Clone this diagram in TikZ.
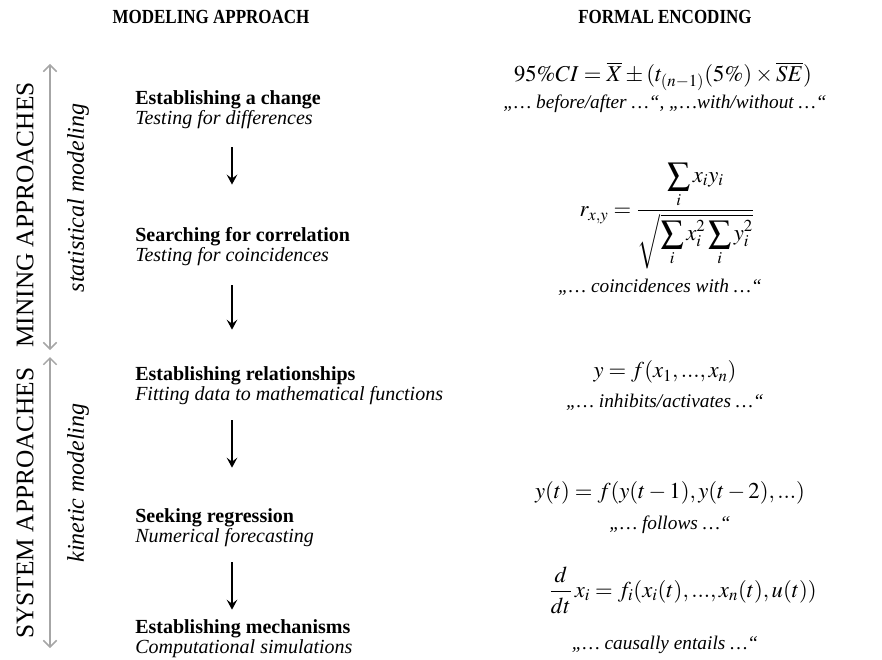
\documentclass[tikz,border=0pt]{standalone}
\usepackage{amsmath}
\usepackage[no-math]{fontspec}
\usepackage{mathptmx}
\setmainfont{Liberation Serif}
\newfontfamily\headfont[FakeStretch=0.85]{Liberation Serif}
\usetikzlibrary{arrows.meta, positioning, calc}

\begin{document}
\begin{tikzpicture}[
    x=0.75pt, y=-0.75pt,
    head/.style={inner sep=0pt, font=\headfont\bfseries\fontsize{15}{18}\selectfont},
    stepbox/.style={anchor=west, inner sep=0pt, align=left, font=\fontsize{15}{15}\selectfont},
    formula/.style={inner sep=0pt, font=\fontsize{17}{20}\selectfont},
    phrase/.style={inner sep=0pt, font=\itshape\fontsize{14.5}{17}\selectfont},
    side/.style={rotate=90, inner sep=0pt, font=\fontsize{19}{22}\selectfont},
    sidesub/.style={rotate=90, inner sep=0pt, font=\itshape\fontsize{18}{21}\selectfont},
    flow/.style={-{Stealth[length=7.5pt, width=8pt, inset=3pt]}, line width=1.1pt},
    band/.style={{Straight Barb[length=5pt, width=10pt]}-{Straight Barb[length=5pt, width=10pt]}, gray!70, line width=1.1pt}
]
\useasboundingbox (0,0) rectangle (882,660);

% column heads
\node[head] (hmodel) at (211,17) {MODELING APPROACH};
\node[head] (hformal) at (665,17) {FORMAL ENCODING};

% approach bands on the left
\coordinate (mtop) at (50,64);
\coordinate (mbot) at (50,350);
\coordinate (ytop) at (50,357);
\coordinate (ybot) at (50,648);
\draw[band] (mtop) -- (mbot);
\draw[band] (ytop) -- (ybot);
\node[side] (mining) at (25,215) {MINING APPROACHES};
\node[sidesub] (stat) at (78,198) {statistical modeling};
\node[side] (system) at (25,503) {SYSTEM APPROACHES};
\node[sidesub] (kinetic) at (78,483) {kinetic modeling};

% modeling steps
\node[stepbox] (s1) at (135,110) {\textbf{Establishing a change}\\\textit{Testing for differences}};
\node[stepbox] (s2) at (135,247) {\textbf{Searching for correlation}\\\textit{Testing for coincidences}};
\node[stepbox] (s3) at (135,386) {\textbf{Establishing relationships}\\\textit{Fitting data to mathematical functions}};
\node[stepbox] (s4) at (135,528) {\textbf{Seeking regression}\\\textit{Numerical forecasting}};
\node[stepbox] (s5) at (135,639) {\textbf{Establishing mechanisms}\\\textit{Computational simulations}};

\coordinate (ax) at (232,0);
\draw[flow] ($(s1.south west -| ax)+(0,18)$) -- ($(s2.north west -| ax)+(0,-43)$);
\draw[flow] ($(s2.south west -| ax)+(0,19)$) -- ($(s3.north west -| ax)+(0,-37)$);
\draw[flow] ($(s3.south west -| ax)+(0,15)$) -- ($(s4.north west -| ax)+(0,-41)$);
\draw[flow] ($(s4.south west -| ax)+(0,15)$) -- ($(s5.north west -| ax)+(0,-10)$);

% formal encodings
\node[formula] (f1) at (663,76) {$95\%CI = \overline{X} \pm (t_{(n-1)}(5\%)\times\overline{SE})$};
\node[phrase] (q1) at (665,104) {„… before/after …“, „…with/without …“};
\node[formula] (f2) at (667,216) {$\displaystyle r_{x,y} = \frac{\displaystyle\sum_i x_i y_i}{\sqrt{\displaystyle\sum_i x_i^2 \sum_i y_i^2}}$};
\node[phrase] (q2) at (660,287) {„… coincidences with …“};
\node[formula] (f3) at (665,372) {$y = f(x_1,...,x_n)$};
\node[phrase] (q3) at (665,402) {„… inhibits/activates …“};
\node[formula] (f4) at (670,493) {$y(t) = f(y(t-1), y(t-2),...)$};
\node[phrase] (q4) at (670,525) {„… follows …“};
\node[formula] (f5) at (683,590) {$\displaystyle \frac{d}{dt}\,x_i = f_i(x_i(t),...,x_n(t),u(t))$};
\node[phrase] (q5) at (665,645) {„… causally entails …“};

\end{tikzpicture}
\end{document}
